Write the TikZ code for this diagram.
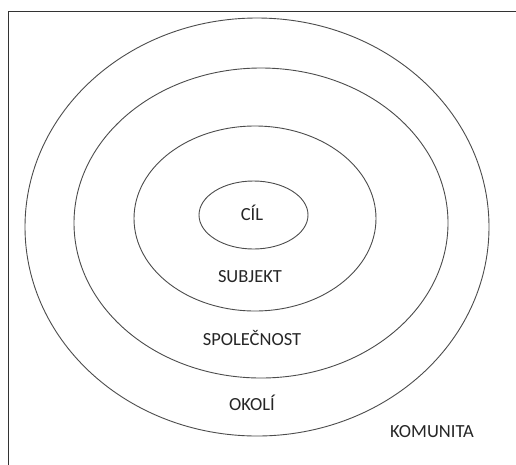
\documentclass[tikz,border=0pt]{standalone}
\usepackage{fontspec}
\setmainfont{Carlito}
\begin{document}
\begin{tikzpicture}[x=1pt,y=-1pt,
  ring/.style={draw=black!70,line width=0.9pt},
  lbl/.style={font=\fontsize{18.5}{22}\selectfont,text=black!85,inner sep=0pt}]
\useasboundingbox (0,0) rectangle (516,464);
\clip (0,0) rectangle (516,464);
\fill[white] (0,0) rectangle (516,464);
\draw[black!80,line width=1pt] (8,11) rectangle (530,480);
\draw[ring] (257,227) ellipse [x radius=232, y radius=209];
\draw[ring] (261,223) ellipse [x radius=187, y radius=155];
\draw[ring] (255,218.5) ellipse [x radius=121, y radius=92.5];
\draw[ring] (253.5,215) ellipse [x radius=54.5, y radius=34];
\node[lbl] (cil) at (252,213) {CÍL};
\node[lbl] (subjekt) at (250,277) {SUBJEKT};
\node[lbl] (spol) at (252,338) {SPOLEČNOST};
\node[lbl] (okoli) at (252,403) {OKOLÍ};
\node[lbl] (komunita) at (432,432) {KOMUNITA};
\end{tikzpicture}
\end{document}
